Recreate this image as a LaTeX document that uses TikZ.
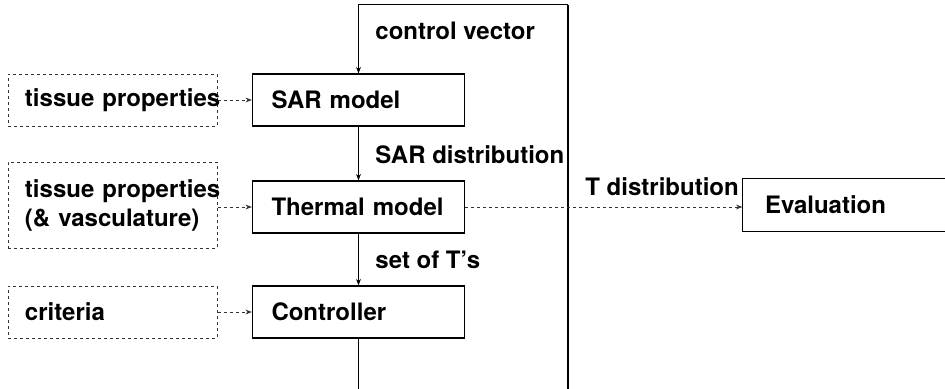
\documentclass[tikz,border=0pt]{standalone}
\usepackage{fontspec}
\setmainfont{TeX Gyre Heros}
\usetikzlibrary{arrows.meta}
\tikzset{
  solidbox/.style={draw=black, line width=0.6pt, rectangle, minimum height=26pt,
    text width=106pt-19pt, inner xsep=9.5pt, align=left, font=\fontsize{12}{14.5}\selectfont\bfseries},
  dashbox/.style={draw=black!80, dashed, dash pattern=on 1.6pt off 1.4pt, line width=0.5pt, rectangle,
    minimum height=26pt, text width=104.5pt-17pt, inner xsep=8.5pt, align=left,
    font=\fontsize{12}{14.5}\selectfont\bfseries},
  flow/.style={draw=black, line width=0.6pt},
  flowarrow/.style={flow, -{Stealth[length=3.2pt,width=2.4pt]}},
  dasharrow/.style={draw=black!80, line width=0.5pt, dash pattern=on 1.6pt off 1.4pt,
    -{Stealth[length=3.2pt,width=2.4pt]}},
  lbl/.style={anchor=west, inner sep=0pt, font=\fontsize{12}{14.5}\selectfont\bfseries}
}
\begin{document}
\begin{tikzpicture}[x=0.5pt,y=-0.5pt]
\useasboundingbox (0,0) rectangle (945,388);
\clip (0,0) rectangle (945,388);
% left input boxes
\node[dashbox] (tp1) at (112.5,100) {\mbox{tissue properties}};
\node[dashbox, minimum height=43pt] (tp2) at (112.5,205) {\mbox{tissue properties}\\\mbox{(\&~vasculature)}};
\node[dashbox] (crit) at (112.5,312) {criteria};
% main chain
\node[solidbox] (sar) at (358.5,100) {SAR model};
\node[solidbox] (thermal) at (358.5,207) {Thermal model};
\node[solidbox] (ctrl) at (358.5,312) {Controller};
\node[solidbox, draw=none, text width=150pt, inner xsep=11pt] (eval) at (915,205) {Evaluation};
\draw[flow] (eval.north east) -- (eval.north west) -- (eval.south west) -- (eval.south east);
% loop corners
\coordinate (tl) at (358.5,4.6);
\coordinate (tr) at (568,4.6);
\coordinate (bl) at (358.5,400);
\coordinate (br) at (568,400);
% loop
\draw[flowarrow] (tr) -- (tl) -- (sar.north);
\draw[flowarrow] (sar.south) -- (thermal.north);
\draw[flowarrow] (thermal.south) -- (ctrl.north);
\draw[flow] (ctrl.south) -- (bl);
\draw[flow] (br) -- (tr);
% dashed inputs
\draw[dasharrow] (tp1.east) -- (sar.west);
\draw[dasharrow] (thermal.west -| tp2.east) -- (thermal.west);
\draw[dasharrow] (crit.east) -- (ctrl.west);
\draw[dasharrow] (thermal.east) -- (thermal.east -| eval.west);
% labels
\node[lbl] (l1) at (375,31) {control vector};
\node[lbl] (l2) at (375,155) {SAR distribution};
\node[lbl] (l3) at (375,260) {set of T’s};
\node[lbl] (l4) at (585,187) {T distribution};
\end{tikzpicture}
\end{document}
